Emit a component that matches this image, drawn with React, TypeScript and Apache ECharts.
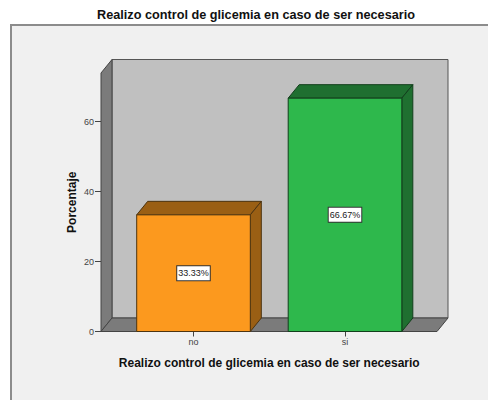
import React, { useEffect, useRef } from "react";
import * as echarts from "echarts";

const chartTitle = "Realizo control de glicemia en caso de ser necesario";
const categories = ["no", "si"];
const percentages = [33.33, 66.67];
const yTicks = [0, 20, 40, 60];
const yAxisMax = 73.86;
const faceColors = ["#fc991e", "#2eb84c"];
const shadeColors = ["#9a5f14", "#1f6f30"];
const edgeColors = ["#4d3410", "#123f1c"];

const depthX = 11;
const depthY = -13.5;
const gridLeft = 117.75;
const gridRight = 67.25;
const wallLeft = 101;
const wallRight = 437;

const poly = (points: number[][], fill: string, stroke: string) => ({
  type: "polygon",
  shape: { points },
  style: { fill, stroke, lineWidth: 1 },
});

export default function App() {
  const ref = useRef<HTMLDivElement>(null);
  useEffect(() => {
    document.body.style.margin = "0";
    const chart = echarts.init(ref.current!, undefined, { renderer: "svg" });
    const font = "Liberation Sans";
    chart.setOption({
      animation: false,
      backgroundColor: "#ffffff",
      title: {
        text: chartTitle,
        left: 251,
        top: 3,
        textAlign: "center",
        textStyle: { fontFamily: font, fontSize: 12.7, fontWeight: "bold", color: "#111" },
      },
      graphic: [
        {
          type: "rect",
          z: -10,
          silent: true,
          shape: { x: 11, y: 25, width: 600, height: 500 },
          style: { fill: "#f0f0f0", stroke: "#8c8c8c", lineWidth: 2 },
        },
      ],
      grid: { left: gridLeft, right: gridRight, top: 73, bottom: 68.5 },
      xAxis: {
        type: "category",
        data: categories,
        boundaryGap: true,
        name: chartTitle,
        nameLocation: "middle",
        nameGap: 25,
        nameMoveOverlap: false,
        nameTextStyle: { fontFamily: font, fontSize: 12, fontWeight: "bold", color: "#111" },
        axisLine: { show: false },
        axisTick: { show: true, alignWithLabel: true, length: 5, lineStyle: { color: "#444" } },
        axisLabel: { fontFamily: font, fontSize: 9, color: "#444", margin: 6 },
      },
      yAxis: {
        type: "value",
        min: 0,
        max: yAxisMax,
        offset: gridLeft - wallLeft,
        name: "Porcentaje",
        nameLocation: "middle",
        nameGap: 23,
        nameMoveOverlap: false,
        nameTextStyle: { fontFamily: font, fontSize: 12, fontWeight: "bold", color: "#111" },
        splitLine: { show: false },
        axisLine: { show: false },
        axisTick: { show: true, length: 6, customValues: yTicks, lineStyle: { color: "#444" } },
        axisLabel: { fontFamily: font, fontSize: 9, color: "#444", margin: 7, customValues: yTicks },
      },
      series: [
        {
          type: "custom",
          name: "walls",
          z: 1,
          silent: true,
          data: [[0, yAxisMax]],
          encode: { x: 0, y: 1 },
          renderItem: (_p: any, api: any) => {
            const top = api.coord([0, yAxisMax])[1];
            const base = api.coord([0, 0])[1];
            const stroke = "#555555";
            return {
              type: "group",
              children: [
                poly(
                  [
                    [wallLeft + depthX, top + depthY],
                    [wallRight + depthX, top + depthY],
                    [wallRight + depthX, base + depthY],
                    [wallLeft + depthX, base + depthY],
                  ],
                  "#c0c0c0",
                  stroke
                ),
                poly(
                  [
                    [wallLeft, top],
                    [wallLeft + depthX, top + depthY],
                    [wallLeft + depthX, base + depthY],
                    [wallLeft, base],
                  ],
                  "#7b7b7b",
                  "#444444"
                ),
                poly(
                  [
                    [wallLeft, base],
                    [wallRight, base],
                    [wallRight + depthX, base + depthY],
                    [wallLeft + depthX, base + depthY],
                  ],
                  "#7b7b7b",
                  "#444444"
                ),
              ],
            };
          },
        },
        {
          type: "custom",
          name: "Porcentaje",
          z: 2,
          data: percentages.map((v, i) => [i, v]),
          encode: { x: 0, y: 1 },
          renderItem: (p: any, api: any) => {
            const i = p.dataIndex;
            const value = api.value(1);
            const [cx, yTop] = api.coord([api.value(0), value]);
            const yBase = api.coord([api.value(0), 0])[1];
            const w = api.size([1, 0])[0] * 0.75;
            const x0 = cx - w / 2;
            const x1 = cx + w / 2;
            const edge = edgeColors[i];
            return {
              type: "group",
              children: [
                poly(
                  [
                    [x0, yTop],
                    [x1, yTop],
                    [x1 + depthX, yTop + depthY],
                    [x0 + depthX, yTop + depthY],
                  ],
                  shadeColors[i],
                  edge
                ),
                poly(
                  [
                    [x1, yTop],
                    [x1 + depthX, yTop + depthY],
                    [x1 + depthX, yBase + depthY],
                    [x1, yBase],
                  ],
                  shadeColors[i],
                  edge
                ),
                poly(
                  [
                    [x0, yTop],
                    [x1, yTop],
                    [x1, yBase],
                    [x0, yBase],
                  ],
                  faceColors[i],
                  edge
                ),
                {
                  type: "text",
                  style: {
                    text: value.toFixed(2) + "%",
                    x: cx,
                    y: (yTop + yBase) / 2,
                    align: "center",
                    verticalAlign: "middle",
                    fontFamily: font,
                    fontSize: 9,
                    fill: "#222",
                    backgroundColor: "#ffffff",
                    borderColor: "#333333",
                    borderWidth: 1,
                    padding: [2, 1, 3, 1],
                  },
                },
              ],
            };
          },
        },
      ],
    });
    return () => chart.dispose();
  }, []);
  return <div ref={ref} style={{ width: 488, height: 400 }} />;
}
